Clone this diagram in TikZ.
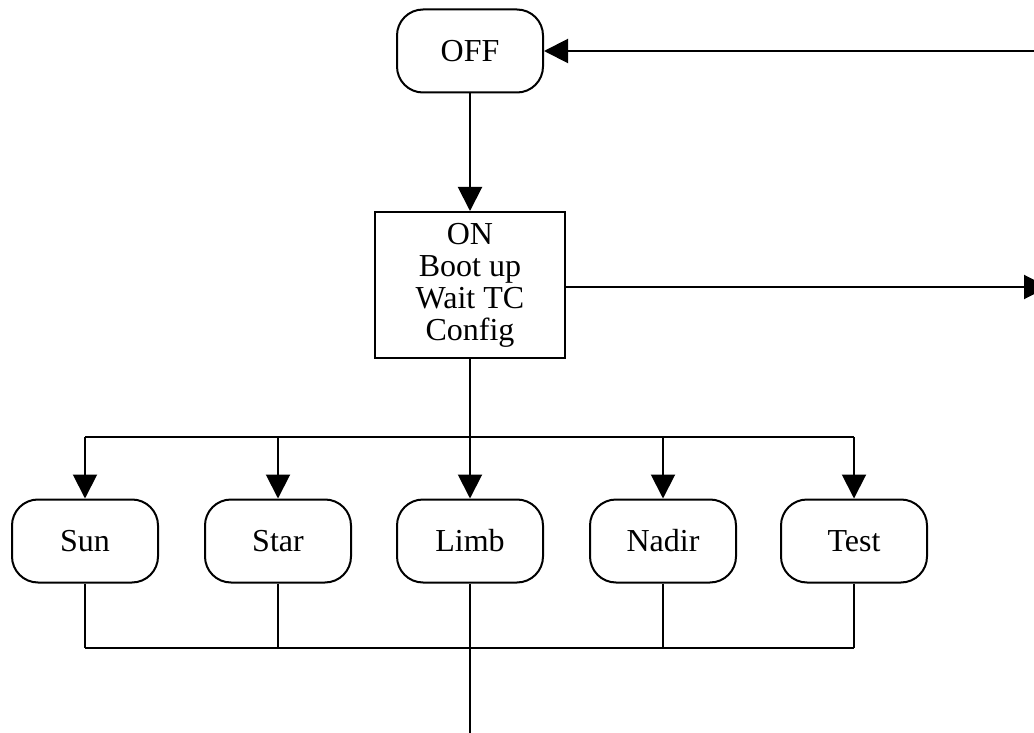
\documentclass[tikz,border=0pt]{standalone}
\usepackage{fontspec}
\setmainfont{Liberation Serif}
\usetikzlibrary{arrows.meta,positioning,calc}

\begin{document}
\begin{tikzpicture}[x=0.5pt, y=-0.5pt, line width=1pt,
    >={Triangle[length=12pt,width=12pt]},
    mode/.style={draw, rounded corners=13pt, minimum width=73pt, minimum height=41.5pt,
      font=\fontsize{16}{16}\selectfont},
    state/.style={draw, align=center, minimum width=95pt, minimum height=73pt,
      font=\fontsize{16}{16}\selectfont}]
  \useasboundingbox (0,0) rectangle (1034,733);
  % power states
  \node[mode] (off) at (470,51) {OFF};
  \node[state] (on) at (470,285) {ON\\Boot up\\Wait TC\\Config};
  \coordinate (offin) at (1034,51);
  \coordinate (onout) at (1048,287);
  \draw[->] (offin) -- (off.east);
  \draw[->] (off) -- (on);
  \draw[->] (on.east |- onout) -- (onout);
  % pointing modes
  \foreach \name/\txt/\x in {sun/Sun/85, star/Star/278, limb/Limb/470, nadir/Nadir/663, test/Test/854}
    \node[mode] (\name) at (\x,541) {\txt};
  \coordinate (split) at (470,437);
  \coordinate (join) at (470,648);
  \coordinate (exit) at (470,735);
  \draw (on) -- (split);
  \draw (sun.north |- split) -- (test.north |- split);
  \foreach \name in {sun,star,limb,nadir,test}
    \draw[->] (\name.north |- split) -- (\name.north);
  \foreach \name in {sun,star,nadir,test}
    \draw (\name.south) -- (\name.south |- join);
  \draw (sun.south |- join) -- (test.south |- join);
  \draw (limb) -- (exit);
\end{tikzpicture}
\end{document}
